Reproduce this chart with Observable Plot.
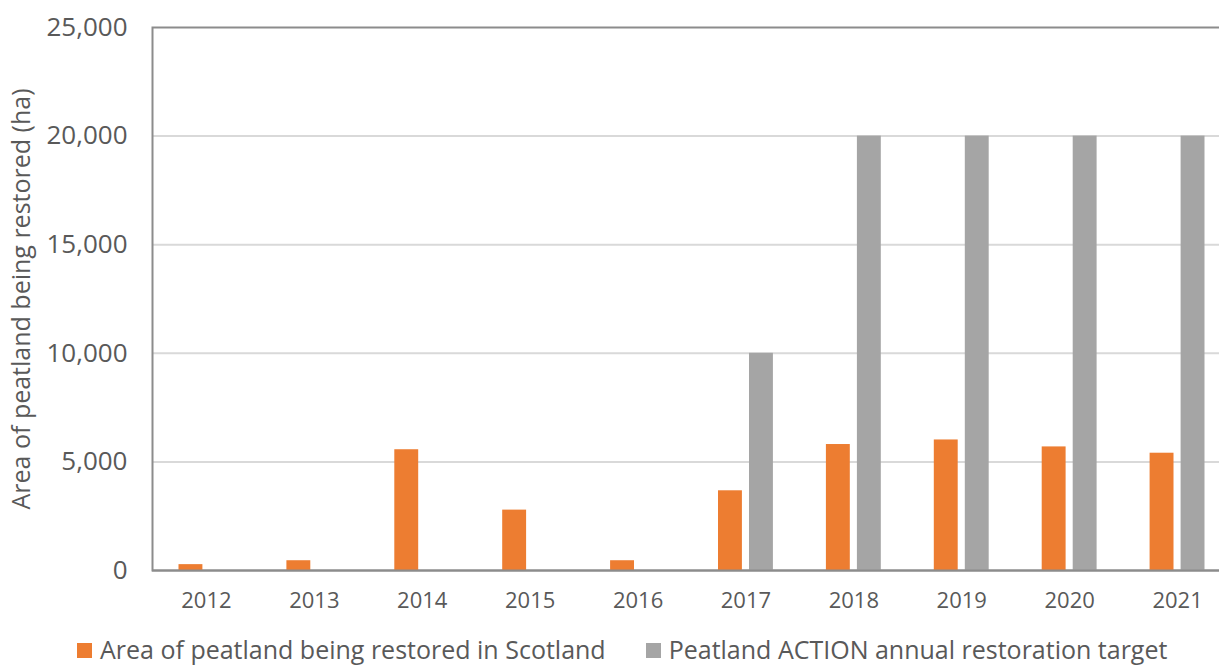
<!DOCTYPE html>
<html>
<head>
<meta charset="utf-8">
<script src="https://cdn.jsdelivr.net/npm/d3@7"></script>
<script src="https://cdn.jsdelivr.net/npm/@observablehq/plot@0.6"></script>
<style>
  html, body { margin: 0; padding: 0; background: #fff; overflow: hidden; width: 1219px; height: 668px; }
  body { font-family: "Open Sans", sans-serif; color: #595959; position: relative; }
  #chart svg { max-width: none !important; display: block; }
  #legend { position: absolute; top: 634px; left: 77px; display: flex; align-items: center; font-size: 25px; white-space: nowrap; line-height: 30px; }
  .item { display: flex; align-items: center; margin-right: 40px; }
  .sw { width: 15px; height: 15px; margin-right: 8px; margin-top: 3px; }
</style>
</head>
<body>
<div id="chart"></div>
<div id="legend"></div>
<script>
const years = ["2012","2013","2014","2015","2016","2017","2018","2019","2020","2021"];
const restored = [270, 450, 5560, 2780, 450, 3670, 5800, 6010, 5690, 5400];
const target = [null, null, null, null, null, 10000, 20000, 20000, 20000, 20000];
const seriesNames = ["Area of peatland being restored in Scotland", "Peatland ACTION annual restoration target"];
const seriesColors = ["#ED7D31", "#A5A5A5"];
const yTicks = [0, 5000, 10000, 15000, 20000, 25000];

const rows = years.map((y, i) => ({year: y, restored: restored[i], target: target[i]}));
const tgtRows = rows.filter(d => d.target != null);

const chart = Plot.plot({
  width: 1231,
  height: 620,
  marginLeft: 152,
  marginRight: 0,
  marginTop: 27,
  marginBottom: 50,
  style: {fontFamily: "'Open Sans', sans-serif", color: "#595959", background: "#fff", maxWidth: "none"},
  x: {domain: years, padding: 0, round: false},
  y: {domain: [0, 25000]},
  marks: [
    Plot.ruleY(yTicks.slice(1, -1), {stroke: "#d9d9d9", strokeWidth: 2}),
    Plot.frame({stroke: "#8c8c8c", strokeWidth: 2}),
    Plot.barY(rows, {x: "year", y: "restored", fill: seriesColors[0], dx: -15.5, insetLeft: 42, insetRight: 42}),
    Plot.barY(tgtRows, {x: "year", y: "target", fill: seriesColors[1], dx: 15.5, insetLeft: 42, insetRight: 42}),
    Plot.ruleY([0], {stroke: "#8c8c8c", strokeWidth: 2}),
    Plot.axisX({tickSize: 0, tickPadding: 22, fontSize: 22, label: null}),
    Plot.axisY({ticks: yTicks, tickSize: 0, tickPadding: 25, fontSize: 26, tickFormat: d3.format(","),
      label: "Area of peatland being restored (ha)", labelAnchor: "center", labelArrow: "none", labelOffset: 140})
  ]
});
document.getElementById("chart").appendChild(chart);
chart.querySelectorAll("[aria-label='y-axis label']").forEach(n => n.setAttribute("font-size", 25));

const legend = document.getElementById("legend");
seriesNames.forEach((name, i) => {
  const it = document.createElement("div");
  it.className = "item";
  const sw = document.createElement("div");
  sw.className = "sw";
  sw.style.background = seriesColors[i];
  const t = document.createElement("span");
  t.textContent = name;
  it.appendChild(sw); it.appendChild(t);
  legend.appendChild(it);
});
</script>
</body>
</html>
